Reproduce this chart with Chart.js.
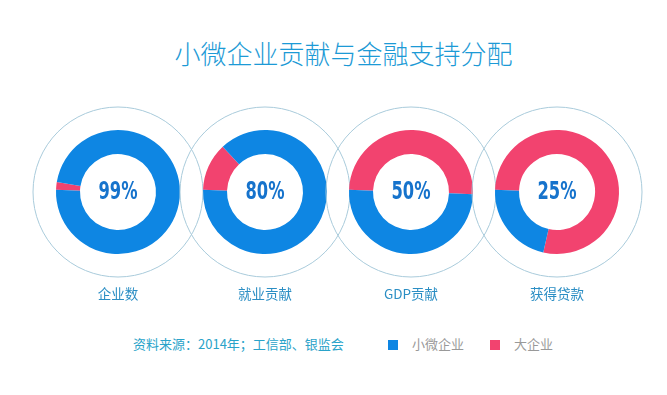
<!DOCTYPE html>
<html>
<head>
<meta charset="utf-8">
<script src="https://cdn.jsdelivr.net/npm/chart.js@4"></script>
<style>
  body { margin: 0; background: #fff; }
  #wrap { position: relative; width: 667px; height: 395px; overflow: hidden; font-family: "Noto Sans CJK SC", sans-serif; }
  #title { position: absolute; left: 10px; width: 667px; top: 34px; text-align: center; font-size: 26px; font-weight: 300; color: #1c9ad6; }
  .ring { position: absolute; top: 92px; width: 200px; height: 200px; }
  .lbl { position: absolute; top: 283px; width: 140px; text-align: center; font-size: 13.5px; color: #2b8ec4; }
  #foot { position: absolute; top: 334px; left: 133px; font-size: 13px; color: #2aa3c9; }
  .leg { position: absolute; top: 334px; font-size: 13px; color: #999; }
  .sq { display: inline-block; width: 10px; height: 10px; vertical-align: -1px; margin-right: 14px; }
</style>
</head>
<body>
<div id="wrap">
  <div id="title">小微企业贡献与金融支持分配</div>
  <div id="foot">资料来源：2014年；工信部、银监会</div>
  <div class="leg" style="left:388px"><span class="sq" style="background:#0e86e3"></span>小微企业</div>
  <div class="leg" style="left:490px"><span class="sq" style="background:#f2436f"></span>大企业</div>
</div>
<script>
// data
const categories = ['企业数', '就业贡献', 'GDP贡献', '获得贷款'];
const centerLabels = ['99%', '80%', '50%', '25%'];
const smallShare = [98, 87.5, 50, 22];   // 小微企业 (blue)
const bigShare = [2, 12.5, 50, 78];      // 大企业 (pink)
const seriesNames = ['大企业', '小微企业'];

const centersX = [118, 265, 411, 557];
const blue = '#0e86e3';
const pink = '#f2436f';

const ringDeco = {
  id: 'ringDeco',
  beforeDatasetsDraw(chart) {
    const arc = chart.getDatasetMeta(0).data[0];
    const ctx = chart.ctx;
    ctx.save();
    ctx.beginPath();
    ctx.arc(arc.x, arc.y, 85, 0, Math.PI * 2);
    ctx.strokeStyle = '#a9cbdb';
    ctx.lineWidth = 1;
    ctx.stroke();
    ctx.restore();
  },
  afterDatasetsDraw(chart) {
    const arc = chart.getDatasetMeta(0).data[0];
    const ctx = chart.ctx;
    ctx.save();
    // squeeze text horizontally to look like the condensed numerals
    ctx.translate(arc.x, arc.y + 1);
    ctx.scale(0.68, 1);
    ctx.font = "bold 24px 'DejaVu Sans', sans-serif";
    ctx.fillStyle = '#1673cc';
    ctx.textAlign = 'center';
    ctx.textBaseline = 'middle';
    ctx.fillText(chart.options.plugins.ringDeco.text, 0, 0);
    ctx.restore();
  }
};

const wrap = document.getElementById('wrap');
categories.forEach(function (cat, i) {
  const cv = document.createElement('canvas');
  cv.className = 'ring';
  cv.style.left = (centersX[i] - 100) + 'px';
  cv.width = 200;
  cv.height = 200;
  wrap.appendChild(cv);

  const lbl = document.createElement('div');
  lbl.className = 'lbl';
  lbl.style.left = (centersX[i] - 70) + 'px';
  lbl.textContent = cat;
  wrap.appendChild(lbl);

  new Chart(cv, {
    type: 'doughnut',
    data: {
      labels: seriesNames,
      datasets: [{
        data: [bigShare[i], smallShare[i]],
        backgroundColor: [pink, blue],
        borderWidth: 0
      }]
    },
    options: {
      responsive: false,
      animation: false,
      rotation: 272,
      radius: 62,
      cutout: '61.3%',
      plugins: {
        legend: { display: false },
        tooltip: { enabled: false },
        ringDeco: { text: centerLabels[i] }
      }
    },
    plugins: [ringDeco]
  });
});
</script>
</body>
</html>
